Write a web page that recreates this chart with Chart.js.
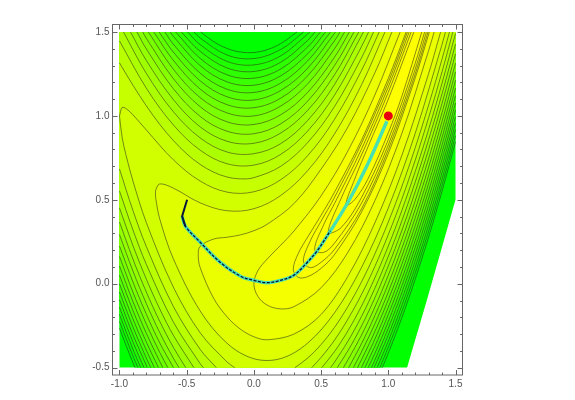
<!DOCTYPE html>
<html>
<head>
<meta charset="utf-8">
<style>
  html, body { margin: 0; padding: 0; background: #fff; }
  canvas { position: absolute; left: 0; top: 0; }
</style>
<script src="https://cdn.jsdelivr.net/npm/chart.js@4"></script>
</head>
<body>
<canvas id="chartContour" width="575" height="400"></canvas>
<script>
// --- Values ---
const xTicks = [-1, -0.5, 0, 0.5, 1, 1.5];
const yTicks = [-0.5, 0, 0.5, 1, 1.5];

// Where the plot stops: everything right of this edge is white
const outerEdge = [[-1,1.5],[1.5,1.5],[1.5,.5],[1.29,-.09],[1.14,-.5],[-1,-.5]];

// Levels 4..20: upper arc (up), lower-left piece (lowL), lower-right piece (lowR)
const up20 = [[-.395,1.5],[-.3,1.443],[-.2,1.402],[-.1,1.381],[0,1.378],[.1,1.395],[.2,1.431],[.32,1.5]];
const lowL20 = [[-1,-.265],[-.95,-.37],[-.9,-.47],[-.885,-.5]];
const lowR20 = [[.955,-.5],[1,-.414],[1.1,-.204],[1.2,.027],[1.3,.278],[1.4,.552],[1.5,.845]];
const up19 = [[-.447,1.5],[-.4,1.464],[-.2,1.363],[0,1.342],[.2,1.396],[.37,1.5]];
const lowL19 = [[-1,-.225],[-.9,-.43],[-.863,-.5]];
const lowR19 = [[.937,-.5],[1,-.378],[1.1,-.168],[1.2,.063],[1.3,.314],[1.4,.588],[1.5,.881]];
const up18 = [[-.493,1.5],[-.4,1.425],[-.2,1.325],[0,1.304],[.2,1.358],[.4,1.488],[.415,1.5]];
const lowL18 = [[-1,-.183],[-.9,-.39],[-.842,-.5]];
const lowR18 = [[.917,-.5],[1,-.342],[1.1,-.132],[1.2,.099],[1.3,.35],[1.4,.624],[1.5,.918]];
const up17 = [[-.54,1.5],[-.4,1.385],[-.2,1.286],[0,1.265],[.2,1.32],[.4,1.45],[.455,1.5]];
const lowL17 = [[-1,-.14],[-.9,-.347],[-.818,-.5]];
const lowR17 = [[.895,-.5],[1,-.304],[1.1,-.094],[1.2,.137],[1.3,.389],[1.4,.662],[1.5,.956]];
const up16 = [[-.582,1.5],[-.4,1.343],[-.2,1.245],[0,1.225],[.2,1.28],[.4,1.411],[.495,1.5]];
const lowL16 = [[-1,-.095],[-.9,-.303],[-.793,-.5]];
const lowR16 = [[.875,-.5],[.9,-.455],[1,-.265],[1.1,-.055],[1.2,.176],[1.3,.428],[1.4,.701],[1.5,.995]];
const up15 = [[-.622,1.5],[-.6,1.475],[-.4,1.3],[-.2,1.203],[0,1.183],[.2,1.239],[.4,1.37],[.533,1.5]];
const lowL15 = [[-1,-.049],[-.9,-.257],[-.8,-.444],[-.767,-.5]];
const lowR15 = [[.85,-.5],[.9,-.415],[1,-.225],[1.1,-.015],[1.2,.216],[1.3,.468],[1.4,.742],[1.5,1.036]];
const up14 = [[-.663,1.5],[-.6,1.428],[-.4,1.255],[-.2,1.159],[0,1.14],[.2,1.196],[.4,1.328],[.57,1.5]];
const lowL14 = [[-1,0],[-.9,-.209],[-.8,-.397],[-.74,-.5]];
const lowR14 = [[.825,-.5],[.9,-.373],[1,-.183],[1.1,.027],[1.2,.258],[1.3,.51],[1.4,.783],[1.5,1.077]];
const up13 = [[-.705,1.5],[-.6,1.381],[-.4,1.209],[-.2,1.114],[0,1.095],[.2,1.152],[.4,1.284],[.607,1.5]];
const lowL13 = [[-1,.051],[-.9,-.159],[-.8,-.348],[-.71,-.5]];
const lowR13 = [[.8,-.5],[.9,-.33],[1,-.14],[1.1,.07],[1.2,.301],[1.3,.554],[1.4,.827],[1.5,1.121]];
const up12 = [[-.745,1.5],[-.6,1.332],[-.4,1.16],[-.2,1.067],[0,1.049],[.2,1.106],[.4,1.239],[.6,1.448],[.64,1.5]];
const lowL12 = [[-1,.106],[-.9,-.106],[-.8,-.296],[-.7,-.464],[-.677,-.5]];
const lowR12 = [[.77,-.5],[.8,-.454],[.9,-.285],[1,-.095],[1.1,.115],[1.2,.346],[1.3,.599],[1.4,.872],[1.5,1.166]];
const up11 = [[-.785,1.5],[-.6,1.279],[-.4,1.109],[-.2,1.018],[0,1],[.2,1.059],[.4,1.191],[.6,1.401],[.675,1.5]];
const lowL11 = [[-1,.163],[-.9,-.05],[-.8,-.241],[-.7,-.41],[-.64,-.5]];
const lowR11 = [[.74,-.5],[.8,-.407],[.9,-.239],[1,-.049],[1.1,.162],[1.2,.393],[1.3,.645],[1.4,.919],[1.5,1.213]];
const up10 = [[-.827,1.5],[-.8,1.462],[-.6,1.223],[-.4,1.055],[-.2,.965],[0,.949],[.2,1.007],[.4,1.14],[.6,1.35],[.71,1.5]];
const lowL10 = [[-1,.225],[-.9,.011],[-.8,-.182],[-.7,-.353],[-.598,-.5]];
const lowR10 = [[.705,-.5],[.8,-.358],[.9,-.19],[1,0],[1.1,.21],[1.2,.442],[1.3,.695],[1.4,.968],[1.5,1.263]];
const up9 = [[-.87,1.5],[-.8,1.399],[-.6,1.163],[-.4,.997],[-.2,.909],[0,.894],[.2,.953],[.4,1.088],[.6,1.3],[.745,1.5]];
const lowL9 = [[-1,.293],[-.9,.076],[-.8,-.119],[-.7,-.292],[-.6,-.443],[-.557,-.5]];
const lowR9 = [[.665,-.5],[.7,-.453],[.8,-.307],[.9,-.139],[1,.051],[1.1,.262],[1.2,.494],[1.3,.746],[1.4,1.02],[1.5,1.315]];
const up8 = [[-.918,1.5],[-.8,1.33],[-.6,1.098],[-.4,.935],[-.2,.849],[0,.837],[.2,.898],[.4,1.033],[.6,1.245],[.78,1.5]];
const lowL8 = [[-1,.368],[-.9,.147],[-.8,-.05],[-.7,-.225],[-.6,-.378],[-.507,-.5]];
const lowR8 = [[.62,-.5],[.7,-.399],[.8,-.253],[.9,-.084],[1,.106],[1.1,.316],[1.2,.548],[1.3,.801],[1.4,1.076],[1.5,1.37]];
const up7 = [[-.97,1.5],[-.8,1.253],[-.6,1.026],[-.4,.869],[-.2,.785],[0,.775],[.2,.835],[.4,.973],[.6,1.187],[.815,1.5]];
const lowL7 = [[-1,.452],[-.9,.228],[-.8,.027],[-.7,-.151],[-.6,-.306],[-.447,-.5]];
const lowR7 = [[.57,-.5],[.6,-.467],[.7,-.342],[.8,-.196],[.9,-.027],[1,.163],[1.1,.373],[1.2,.606],[1.3,.859],[1.4,1.133],[1.5,1.428]];
const up6 = [[-1,1.447],[-.8,1.165],[-.6,.947],[-.4,.796],[-.2,.715],[0,.707],[.2,.771],[.4,.91],[.6,1.124],[.8,1.412],[.853,1.5]];
const lowL6 = [[-1,.553],[-.9,.321],[-.8,.115],[-.6,-.227],[-.4,-.476],[-.375,-.5]];
const lowR6 = [[.505,-.5],[.6,-.404],[.7,-.28],[.8,-.134],[.9,.035],[1,.225],[1.1,.435],[1.2,.668],[1.3,.92],[1.4,1.196],[1.5,1.492]];
const up5 = [[-1,1.316],[-.9,1.183],[-.8,1.06],[-.7,.949],[-.6,.854],[-.5,.774],[-.4,.711],[-.3,.665],[-.2,.636],[-.1,.625],[0,.632],[.2,.7],[.4,.841],[.6,1.056],[.8,1.345],[.89,1.5]];
const lowL5 = [[-1,.684],[-.9,.437],[-.8,.221],[-.6,-.134],[-.4,-.391],[-.28,-.5]];
const lowR5 = [[.43,-.5],[.5,-.439],[.6,-.336],[.7,-.21],[.8,-.065],[.9,.103],[1,.293],[1.1,.503],[1.2,.736],[1.3,.99],[1.4,1.264],[1.48,1.5]];
const up4 = [[-1,1],[-.98,1.05],[-.95,1.043],[-.9,1.007],[-.8,.916],[-.6,.739],[-.4,.612],[-.2,.546],[0,.548],[.2,.62],[.4,.763],[.6,.98],[.8,1.27],[.932,1.5]];
const lowL4 = [[-1,1],[-.98,.871],[-.95,.762],[-.9,.613],[-.8,.364],[-.6,-.019],[-.4,-.292],[-.2,-.466],[-.143,-.5]];
const lowR4 = [[.305,-.5],[.4,-.443],[.5,-.362],[.6,-.26],[.7,-.135],[.8,.01],[.9,.178],[1,.368],[1.1,.578],[1.2,.81],[1.3,1.065],[1.4,1.34],[1.455,1.5]];

// Levels below 4 close on themselves: from the top edge round the tip and back to the top edge
const ring3 = [[.975,1.5],[.8,1.184],[.6,.893],[.4,.674],[.2,.526],[0,.447],[-.2,.435],[-.4,.482],[-.6,.57],[-.7,.595],[-.73,.559],[-.732,.536],[-.73,.507],[-.7,.385],[-.6,.15],[-.4,-.162],[-.2,-.355],[0,-.447],[.2,-.446],[.4,-.354],[.6,-.173],[.8,.096],[1,.452],[1.2,.896],[1.4,1.427],[1.425,1.5]];
const ring2 = [[1.027,1.5],[.9,1.257],[.7,.935],[.5,.683],[.3,.479],[.1,.355],[0,.316],[-.1,.291],[-.2,.277],[-.3,.266],[-.4,.223],[-.414,.171],[-.4,.097],[-.3,-.086],[-.2,-.197],[-.1,-.271],[0,-.316],[.1,-.334],[.3,-.299],[.5,-.183],[.7,.045],[.9,.363],[1.1,.763],[1.3,1.253],[1.389,1.5]];
const ring1 = [[1.088,1.5],[.9,1.125],[.7,.792],[.5,.524],[.3,.316],[.2,.23],[.1,.148],[.03,.078],[0,0],[.03,-.076],[.1,-.128],[.2,-.15],[.3,-.136],[.5,-.024],[.7,.188],[.9,.495],[1.1,.894],[1.3,1.39],[1.341,1.5]];
const ring05 = [[1.132,1.5],[1,1.224],[.8,.855],[.6,.546],[.5,.408],[.4,.278],[.33,.18],[.293,.086],[.33,.038],[.4,.042],[.5,.092],[.6,.174],[.8,.426],[1,.776],[1.2,1.226],[1.305,1.5]];
const ring04 = [[1.142,1.5],[1,1.2],[.8,.835],[.6,.515],[.5,.373],[.42,.256],[.368,.135],[.42,.096],[.5,.128],[.6,.205],[.8,.445],[1,.8],[1.2,1.25],[1.295,1.5]];
const ring03 = [[1.155,1.5],[1,1.173],[.8,.801],[.6,.478],[.52,.353],[.452,.204],[.52,.187],[.6,.242],[.8,.479],[1,.827],[1.2,1.279],[1.283,1.5]];
const ring02 = [[1.17,1.5],[1,1.141],[.8,.766],[.65,.51],[.553,.306],[.65,.335],[.8,.513],[1,.859],[1.2,1.314],[1.27,1.5]];
const ring01 = [[1.19,1.5],[1,1.1],[.85,.818],[.75,.624],[.684,.468],[.75,.501],[.85,.627],[1,.9],[1.1,1.115],[1.249,1.5]];

// Descent path
const pathStart = [[-.497,.5],[-.534,.402],[-.51,.343]];
const pathLow = [[-.534,.402],[-.51,.343],[-.398,.246],[-.25,.127],[-.1,.045],[0,.02],[.098,.006],[.197,.02],[.296,.05],[.383,.115],[.47,.195],[.569,.315]];
const pathHigh = [[.703,.49],[.842,.705],[.99,.968]];
const endPoint = [[1, 1]];

const openLevels = [
    [20, up20, lowL20, lowR20], [19, up19, lowL19, lowR19], [18, up18, lowL18, lowR18],
    [17, up17, lowL17, lowR17], [16, up16, lowL16, lowR16], [15, up15, lowL15, lowR15],
    [14, up14, lowL14, lowR14], [13, up13, lowL13, lowR13], [12, up12, lowL12, lowR12],
    [11, up11, lowL11, lowR11], [10, up10, lowL10, lowR10], [9, up9, lowL9, lowR9],
    [8, up8, lowL8, lowR8], [7, up7, lowL7, lowR7], [6, up6, lowL6, lowR6],
    [5, up5, lowL5, lowR5], [4, up4, lowL4, lowR4]
];
const ringLevels = [[3, ring3], [2, ring2], [1, ring1], [.5, ring05], [.4, ring04], [.3, ring03], [.2, ring02], [.1, ring01]];
const allLevels = openLevels.map(l => l[0]).concat(ringLevels.map(l => l[0]), [0]);

// --- Helpers ---
const toPoints = arr => arr.map(p => ({ x: p[0], y: p[1] }));

// Band colour runs from green at the top level to yellow at the bottom
function bandColor(level) {
    const next = allLevels[allLevels.indexOf(level) + 1];
    const mid = (level + next) / 2;
    return `rgb(${Math.round(255 * (1 - mid / 20))}, 255, 0)`;
}

const fillSet = (poly, color) => ({
    data: toPoints(poly), showLine: true, fill: 'shape', backgroundColor: color,
    borderWidth: 0, borderColor: 'transparent', pointRadius: 0, tension: 0
});
const lineSet = (arr) => ({
    data: toPoints(arr), showLine: true, fill: false, borderColor: 'rgba(40, 40, 30, 0.6)',
    borderWidth: 0.9, pointRadius: 0, tension: 0.35
});

// Datasets are listed in painting order, order is set from the index below
const paint = [fillSet(outerEdge, 'rgb(0, 255, 0)')];

openLevels.forEach(([level, up, lowL, lowR]) => {
    const poly = up.slice();
    if (lowR[lowR.length - 1][0] >= 1.5) poly.push([1.5, 1.5]);
    poly.push(...lowR.slice().reverse(), ...lowL.slice().reverse());
    if (up[0][1] >= 1.5) poly.push([-1, 1.5]);
    paint.push(fillSet(poly, bandColor(level)));
});
ringLevels.forEach(([level, ring]) => paint.push(fillSet(ring, bandColor(level))));

openLevels.forEach(([, up, lowL, lowR]) => paint.push(lineSet(up), lineSet(lowL), lineSet(lowR)));
ringLevels.forEach(([, ring]) => paint.push(lineSet(ring)));

const pathBase = { showLine: true, fill: false, pointRadius: 0, tension: 0.35 };
paint.push({ ...pathBase, data: toPoints(pathLow.concat(pathHigh)), borderColor: '#46e0b4', borderWidth: 3.4 });
paint.push({ ...pathBase, data: toPoints(pathLow), borderColor: '#0a1638', borderWidth: 1.3, borderDash: [3, 1.5] });
paint.push({ ...pathBase, data: toPoints(pathStart), borderColor: '#0a1638', borderWidth: 2, tension: 0 });
paint.push({ data: toPoints(endPoint), pointRadius: 4.5, pointBackgroundColor: '#e8000f', pointBorderWidth: 0 });

paint.forEach((d, i) => { d.order = paint.length - i; });

// Frame with inward ticks on all four sides
const frameTicks = {
    id: 'frameTicks',
    afterDatasetsDraw: (chart) => {
        const { ctx, chartArea: { left, right, top, bottom }, scales: { x, y } } = chart;
        ctx.save();
        ctx.strokeStyle = '#666';
        ctx.lineWidth = 1;
        ctx.strokeRect(left, top, right - left, bottom - top);
        ctx.beginPath();
        for (let i = -10; i <= 15; i++) {
            const len = i % 5 === 0 ? 5 : 2.5;
            const px = Math.round(x.getPixelForValue(i / 10)) + 0.5;
            ctx.moveTo(px, bottom); ctx.lineTo(px, bottom - len);
            ctx.moveTo(px, top); ctx.lineTo(px, top + len);
        }
        for (let i = -5; i <= 15; i++) {
            const len = i % 5 === 0 ? 5 : 2.5;
            const py = Math.round(y.getPixelForValue(i / 10)) + 0.5;
            ctx.moveTo(left, py); ctx.lineTo(left + len, py);
            ctx.moveTo(right, py); ctx.lineTo(right - len, py);
        }
        ctx.stroke();
        ctx.restore();
    }
};

const tickFont = { family: '"Liberation Sans"', size: 10 };

new Chart(document.getElementById('chartContour'), {
    type: 'scatter',
    data: { datasets: paint },
    options: {
        responsive: false,
        animation: false,
        events: [],
        layout: { padding: { left: 0, right: 112.5, top: 24.5, bottom: 0 } },
        plugins: { legend: { display: false }, tooltip: { enabled: false } },
        scales: {
            x: {
                type: 'linear', min: -1.052, max: 1.552,
                afterFit: (scale) => { scale.height = 25; },
                afterBuildTicks: (scale) => { scale.ticks = xTicks.map(v => ({ value: v })); },
                grid: { display: false, tickLength: 0 }, border: { display: false },
                ticks: { color: '#555', font: tickFont, padding: 3, maxRotation: 0, autoSkip: false, callback: v => v.toFixed(1) }
            },
            y: {
                type: 'linear', min: -0.544, max: 1.545,
                afterFit: (scale) => { scale.width = 112.5; },
                afterBuildTicks: (scale) => { scale.ticks = yTicks.map(v => ({ value: v })); },
                grid: { display: false, tickLength: 0 }, border: { display: false },
                ticks: { color: '#555', font: tickFont, padding: 3, autoSkip: false, callback: v => v.toFixed(1) }
            }
        }
    },
    plugins: [frameTicks]
});
</script>
</body>
</html>
